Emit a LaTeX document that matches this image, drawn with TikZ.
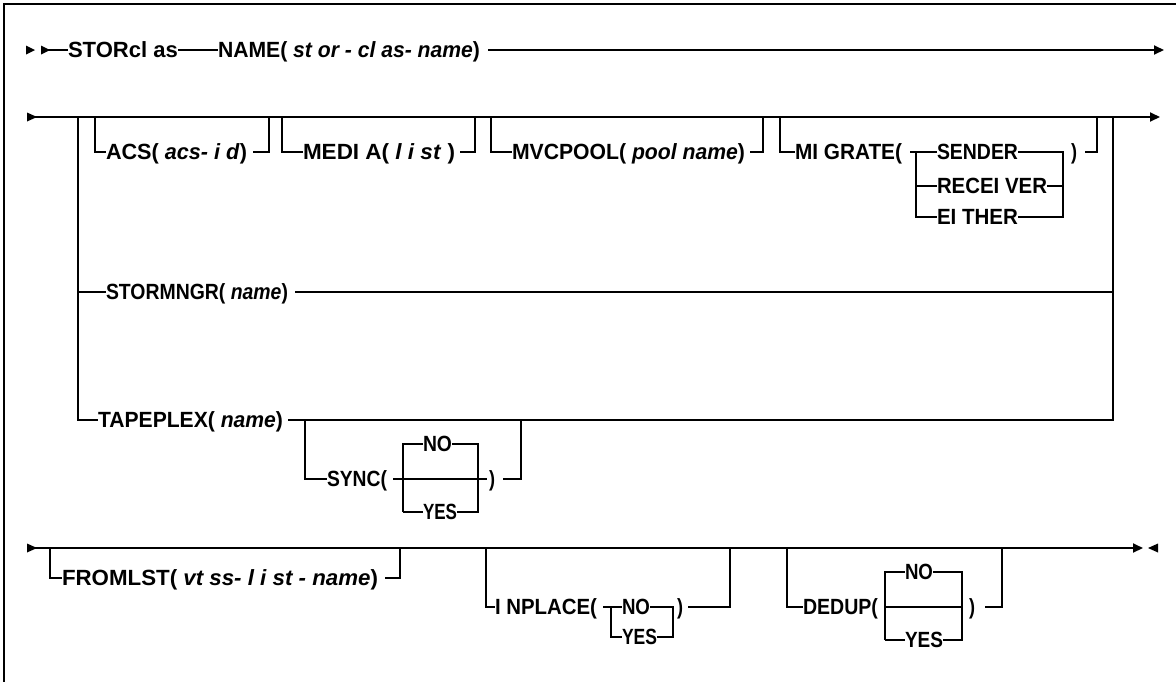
\documentclass[tikz,border=0pt]{standalone}
\usepackage{fontspec}
\setmainfont{Liberation Sans}
\usepackage{graphicx}
\usetikzlibrary{arrows.meta}
\newcommand\fitlbl[2]{\resizebox{#1pt}{\height}{#2}}
\tikzset{
  rr/.style={line width=1.9pt},
  lbl/.style={inner sep=0pt, outer sep=0pt, anchor=base west, font=\fontsize{22}{24}\selectfont\bfseries},
  fin/.style={-{Triangle[length=10pt,width=9pt]}},
  tri/.style={fill=black},
}
\begin{document}
\begin{tikzpicture}[x=1pt,y=-1pt]
\useasboundingbox (0,0) rectangle (1176,681);
% frame
\coordinate (fa) at (4,683);
\coordinate (fb) at (4,4);
\coordinate (fc) at (1178,4);
\draw[rr] (fa) -- (fb) -- (fc);

% ---------------- row 1
\fill[tri] (26,45.5) -- (35,50) -- (26,54.5) -- cycle;
\fill[tri] (41,45.5) -- (50,50) -- (41,54.5) -- cycle;
\coordinate (p1) at (48,50);
\coordinate (p5) at (488,50);
\coordinate (p6) at (1164,50);
\node[lbl] (stor) at (68,57.9) {\fitlbl{110}{STORcl as}};
\node[lbl] (name) at (218,57.9) {\fitlbl{262}{NAME(\textit{ st or - cl as- name})}};
\draw[rr] (p1) -- (stor.west |- p1);
\draw[rr] (stor.east |- p1) -- (name.west |- p1);
\draw[rr,fin] (p5) -- (p6);

% ---------------- row 2
\fill[tri] (27,112.5) -- (37,117) -- (27,121.5) -- cycle;
\coordinate (m0) at (27,117);
\coordinate (m1) at (1160,117);
\draw[rr,fin] (m0) -- (m1);

% choice frame
\coordinate (cl) at (78,117);
\coordinate (clS) at (78,292);
\coordinate (clT) at (78,420);
\coordinate (cr) at (1113,117);
\coordinate (crS) at (1113,292);
\coordinate (crT) at (1113,420);
\coordinate (smE) at (295,292);
\coordinate (tpE) at (288,420);
\node[lbl] (stormngr) at (106,299.9) {\fitlbl{182}{STORMNGR(\textit{ name})}};
\node[lbl] (tape) at (98,427.9) {\fitlbl{185}{TAPEPLEX(\textit{ name})}};
\draw[rr] (cl) -- (clT) -- (tape.west |- clT);
\draw[rr] (clS) -- (stormngr.west |- clS);
\draw[rr] (smE) -- (crS);
\draw[rr] (cr) -- (crT) -- (tpE);

% SYNC
\coordinate (sy0) at (305,420);
\coordinate (sy1) at (305,479);
\coordinate (sy2) at (393,479);
\coordinate (sy3) at (487,479);
\coordinate (syLN) at (403,444);
\coordinate (syRN) at (478,444);
\coordinate (syLY) at (403,512);
\coordinate (syRY) at (478,512);
\coordinate (sy4) at (503,479);
\coordinate (sy5) at (521,479);
\coordinate (sy6) at (521,420);
\node[lbl] (sync) at (327,486.9) {\fitlbl{60}{SYNC(}};
\node[lbl] (syno) at (423,451.9) {\fitlbl{29}{NO}};
\node[lbl] (syyes) at (423,519.9) {\fitlbl{34}{YES}};
\node[lbl] (sycl) at (489,486.9) {\fitlbl{6}{)}};
\draw[rr] (sy0) -- (sy1) -- (sync.west |- sy1);
\draw[rr] (sy2) -- (sy3);
\draw[rr] (syLY) -- (syLN) -- (syno.west |- syLN);
\draw[rr] (syno.east |- syLN) -- (syRN) -- (syRY) -- (syyes.east |- syRY);
\draw[rr] (syLY) -- (syyes.west |- syLY);
\draw[rr] (sy4) -- (sy5) -- (sy6);

% ACS
\coordinate (a0) at (95,117);
\coordinate (a1) at (95,152);
\coordinate (a2) at (253,152);
\coordinate (a3) at (269,152);
\coordinate (a4) at (269,117);
\node[lbl] (acs) at (106,159.9) {\fitlbl{141}{ACS(\textit{ acs- i d})}};
\draw[rr] (a0) -- (a1) -- (acs.west |- a1);
\draw[rr] (a2) -- (a3) -- (a4);

% MEDIA
\coordinate (b0) at (282,117);
\coordinate (b1) at (282,152);
\coordinate (b2) at (460,152);
\coordinate (b3) at (475,152);
\coordinate (b4) at (475,117);
\node[lbl] (media) at (303,159.9) {\fitlbl{152}{MEDI A(\textit{ l i st })}};
\draw[rr] (b0) -- (b1) -- (media.west |- b1);
\draw[rr] (b2) -- (b3) -- (b4);

% MVCPOOL
\coordinate (c0) at (491,117);
\coordinate (c1) at (491,152);
\coordinate (c2) at (750,152);
\coordinate (c3) at (763,152);
\coordinate (c4) at (763,117);
\node[lbl] (mvc) at (512,159.9) {\fitlbl{233}{MVCPOOL(\textit{ pool name})}};
\draw[rr] (c0) -- (c1) -- (mvc.west |- c1);
\draw[rr] (c2) -- (c3) -- (c4);

% MIGRATE
\coordinate (d0) at (780,117);
\coordinate (d1) at (780,152);
\coordinate (d2) at (910,152);
\coordinate (dL) at (916,152);
\coordinate (dLR) at (916,186);
\coordinate (dLE) at (916,217);
\coordinate (dR) at (1063,152);
\coordinate (dRR) at (1063,186);
\coordinate (dRE) at (1063,217);
\coordinate (d3) at (1085,152);
\coordinate (d4) at (1097,152);
\coordinate (d5) at (1097,117);
\node[lbl] (migr) at (795,159.9) {\fitlbl{107}{MI GRATE(}};
\node[lbl] (send) at (937,159.9) {\fitlbl{81}{SENDER}};
\node[lbl] (recv) at (937,193.9) {\fitlbl{110}{RECEI VER}};
\node[lbl] (eith) at (937,224.9) {\fitlbl{81}{EI THER}};
\node[lbl] (mcl) at (1071,159.9) {\fitlbl{6}{)}};
\draw[rr] (d0) -- (d1) -- (migr.west |- d1);
\draw[rr] (d2) -- (send.west |- d2);
\draw[rr] (dL) -- (dLE) -- (eith.west |- dLE);
\draw[rr] (dLR) -- (recv.west |- dLR);
\draw[rr] (send.east |- dR) -- (dR) -- (dRE) -- (eith.east |- dRE);
\draw[rr] (recv.east |- dRR) -- (dRR);
\draw[rr] (d3) -- (d4) -- (d5);

% ---------------- row 3
\fill[tri] (27,543.5) -- (37,548) -- (27,552.5) -- cycle;
\coordinate (q0) at (27,548);
\coordinate (q1) at (1143,548);
\draw[rr,fin] (q0) -- (q1);
\fill[tri] (1158,543.5) -- (1148,548) -- (1158,552.5) -- cycle;

% FROMLST
\coordinate (e0) at (50,548);
\coordinate (e1) at (50,578);
\coordinate (e2) at (385,578);
\coordinate (e3) at (400,578);
\coordinate (e4) at (400,548);
\node[lbl] (froml) at (62,585.9) {\fitlbl{316}{FROMLST(\textit{ vt ss- l i st - name})}};
\draw[rr] (e0) -- (e1) -- (froml.west |- e1);
\draw[rr] (e2) -- (e3) -- (e4);

% INPLACE
\coordinate (g0) at (486,548);
\coordinate (g1) at (486,607);
\coordinate (g2) at (603,607);
\coordinate (gL) at (611,607);
\coordinate (gLY) at (611,637);
\coordinate (gR) at (673,607);
\coordinate (gRY) at (673,637);
\coordinate (g3) at (688,607);
\coordinate (g4) at (730,607);
\coordinate (g5) at (730,548);
\node[lbl] (inpl) at (495,614.9) {\fitlbl{102}{I NPLACE(}};
\node[lbl] (inno) at (622,614.9) {\fitlbl{28}{NO}};
\node[lbl] (inyes) at (622,644.9) {\fitlbl{35}{YES}};
\node[lbl] (incl) at (677,614.9) {\fitlbl{6}{)}};
\draw[rr] (g0) -- (g1) -- (inpl.west |- g1);
\draw[rr] (g2) -- (inno.west |- g2);
\draw[rr] (gL) -- (gLY) -- (inyes.west |- gLY);
\draw[rr] (inno.east |- gR) -- (gR) -- (gRY) -- (inyes.east |- gRY);
\draw[rr] (g3) -- (g4) -- (g5);

% DEDUP
\coordinate (h0) at (787,548);
\coordinate (h1) at (787,607);
\coordinate (hLN) at (885,572);
\coordinate (hL) at (885,607);
\coordinate (hLY) at (885,640);
\coordinate (hRN) at (962,572);
\coordinate (hR) at (962,607);
\coordinate (hRY) at (962,640);
\coordinate (h3) at (985,607);
\coordinate (h4) at (1002,607);
\coordinate (h5) at (1002,548);
\node[lbl] (dedup) at (803,614.9) {\fitlbl{75}{DEDUP(}};
\node[lbl] (dno) at (905,579.9) {\fitlbl{28}{NO}};
\node[lbl] (dyes) at (905,647.9) {\fitlbl{38}{YES}};
\node[lbl] (dcl) at (969,614.9) {\fitlbl{6}{)}};
\draw[rr] (h0) -- (h1) -- (dedup.west |- h1);
\draw[rr] (hLY) -- (hLN) -- (dno.west |- hLN);
\draw[rr] (dno.east |- hRN) -- (hRN) -- (hRY) -- (dyes.east |- hRY);
\draw[rr] (hLY) -- (dyes.west |- hLY);
\draw[rr] (hL) -- (hR);
\draw[rr] (h3) -- (h4) -- (h5);
\end{tikzpicture}
\end{document}
